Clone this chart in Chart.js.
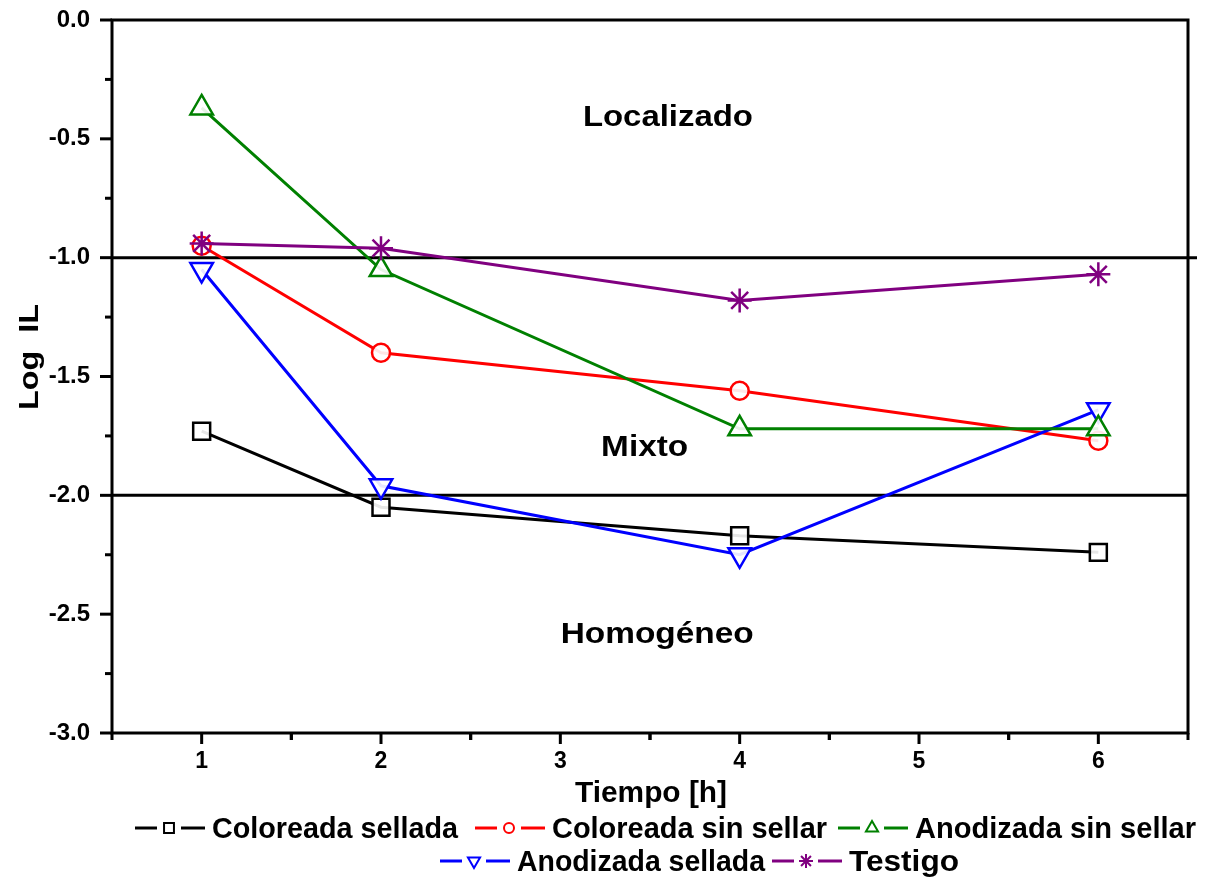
<!DOCTYPE html>
<html>
<head>
<meta charset="utf-8">
<script src="https://cdn.jsdelivr.net/npm/chart.js@4.4.1/dist/chart.umd.min.js"></script>
<style>
  html, body { margin: 0; padding: 0; background: #fff; }
  #wrap { width: 1207px; height: 879px; }
</style>
</head>
<body>
<div id="wrap"><canvas id="chart" width="1207" height="879"></canvas></div>
<script>
  // ===== DATA =====
  const tiempo = [1, 2, 4, 6];
  const coloreadaSellada = [-1.73, -2.05, -2.17, -2.24];
  const coloreadaSinSellar = [-0.95, -1.40, -1.56, -1.77];
  const anodizadaSinSellar = [-0.37, -1.05, -1.72, -1.72];
  const anodizadaSellada = [-1.05, -1.96, -2.25, -1.64];
  const testigo = [-0.94, -0.96, -1.18, -1.07];

  const xTickValues = [1, 2, 3, 4, 5, 6];
  const yTickValues = [0.0, -0.5, -1.0, -1.5, -2.0, -2.5, -3.0];
  const limits = [-1.0, -2.0];               // Localizado / Mixto / Homogéneo
  const regionNames = ["Localizado", "Mixto", "Homogéneo"];

  const FONT = '"Liberation Sans", Arial, Helvetica, sans-serif';

  const series = [
    { label: "Coloreada sellada",    data: coloreadaSellada,   color: "#000000", style: "rect",     r: 12, rot: 0,   order: 4 },
    { label: "Coloreada sin sellar", data: coloreadaSinSellar, color: "#ff0000", style: "circle",   r: 9,  rot: 0,   order: 3 },
    { label: "Anodizada sin sellar", data: anodizadaSinSellar, color: "#008000", style: "triangle", r: 13, rot: 0,   order: 1 },
    { label: "Anodizada sellada",    data: anodizadaSellada,   color: "#0000ff", style: "triangle", r: 13, rot: 180, order: 2 },
    { label: "Testigo",              data: testigo,            color: "#800080", style: "star",     r: 12, rot: 0,   order: 0 }
  ];

  const datasets = series.map(s => ({
    label: s.label,
    data: tiempo.map((t, i) => ({ x: t, y: s.data[i] })),
    order: s.order,
    borderColor: s.color,
    backgroundColor: "#ffffff",
    borderWidth: 3,
    pointStyle: s.style,
    pointRadius: s.r,
    pointHoverRadius: s.r,
    pointRotation: s.rot,
    pointBorderWidth: 2.5,
    pointBorderColor: s.color,
    pointBackgroundColor: "rgba(255,255,255,0.9)",
    tension: 0
  }));

  // text squeezed/stretched to a given width
  function fitText(ctx, text, x, y, w) {
    const m = ctx.measureText(text).width;
    ctx.save();
    ctx.translate(x, y);
    ctx.scale(w / m, 1);
    ctx.fillText(text, 0, 0);
    ctx.restore();
  }

  const decor = {
    id: "decor",
    beforeDatasetsDraw(chart) {
      const { ctx, chartArea: a, scales: { y } } = chart;
      ctx.save();
      ctx.strokeStyle = "#000";
      ctx.lineWidth = 3;
      limits.forEach((v, i) => {
        const py = y.getPixelForValue(v);
        ctx.beginPath();
        ctx.moveTo(a.left, py);
        ctx.lineTo(a.right + (i === 0 ? 9 : 0), py);
        ctx.stroke();
      });
      ctx.restore();
    },
    afterDraw(chart) {
      const { ctx, chartArea: a, scales: { x, y } } = chart;
      ctx.save();
      // frame
      ctx.strokeStyle = "#000";
      ctx.lineWidth = 3;
      ctx.strokeRect(a.left, a.top, a.right - a.left, a.bottom - a.top);

      // y ticks
      for (let i = 0; i < yTickValues.length; i++) {
        const py = y.getPixelForValue(yTickValues[i]);
        ctx.beginPath(); ctx.moveTo(a.left - 12, py); ctx.lineTo(a.left, py); ctx.stroke();
        if (i < yTickValues.length - 1) {
          const pm = y.getPixelForValue((yTickValues[i] + yTickValues[i + 1]) / 2);
          ctx.beginPath(); ctx.moveTo(a.left - 7, pm); ctx.lineTo(a.left, pm); ctx.stroke();
        }
      }
      // x ticks
      xTickValues.forEach(v => {
        const px = x.getPixelForValue(v);
        ctx.beginPath(); ctx.moveTo(px, a.bottom); ctx.lineTo(px, a.bottom + 11); ctx.stroke();
        [v - 0.5, v + 0.5].forEach(m => {
          const pm = x.getPixelForValue(m);
          ctx.beginPath(); ctx.moveTo(pm, a.bottom); ctx.lineTo(pm, a.bottom + 7); ctx.stroke();
        });
      });

      // axis titles
      ctx.fillStyle = "#000";
      ctx.textAlign = "left";
      ctx.textBaseline = "alphabetic";
      ctx.font = "bold 29px " + FONT;
      fitText(ctx, "Tiempo [h]", 575, 802, 152);
      ctx.save();
      ctx.translate(38, 410);
      ctx.rotate(-Math.PI / 2);
      ctx.font = "bold 28px " + FONT;
      fitText(ctx, "Log  IL", 0, 0, 106);
      ctx.restore();

      // region names
      ctx.font = "bold 30px " + FONT;
      const reg = [[3.6, -0.40, 170], [3.47, -1.79, 87], [3.54, -2.575, 193]];
      reg.forEach((r, i) => {
        const px = x.getPixelForValue(r[0]);
        const py = y.getPixelForValue(r[1]);
        fitText(ctx, regionNames[i], px - r[2] / 2, py + 11, r[2]);
      });

      // legend
      ctx.font = "bold 29px " + FONT;
      const rows = [
        { base: 838, items: [[0, 135, 246], [1, 475, 275], [2, 838, 281]] },
        { base: 871, items: [[3, 440, 248], [4, 772, 110]] }
      ];
      rows.forEach(row => {
        row.items.forEach(([k, cx, w]) => {
          const s = series[k];
          const my = row.base - 10;
          ctx.strokeStyle = s.color;
          ctx.lineWidth = 3;
          ctx.beginPath(); ctx.moveTo(cx, my); ctx.lineTo(cx + 22, my); ctx.stroke();
          ctx.beginPath(); ctx.moveTo(cx + 46, my); ctx.lineTo(cx + 70, my); ctx.stroke();
          ctx.fillStyle = "#fff";
          ctx.lineWidth = 2;
          Chart.helpers.drawPoint(ctx, {
            pointStyle: s.style,
            radius: s.style === "circle" ? 5 : 7,
            rotation: s.rot,
            borderWidth: 2
          }, cx + 34, my);
          ctx.fillStyle = "#000";
          fitText(ctx, s.label, cx + 77, row.base, w);
        });
      });
      ctx.restore();
    }
  };

  new Chart(document.getElementById("chart"), {
    type: "line",
    data: { datasets },
    options: {
      responsive: false,
      animation: false,
      events: [],
      layout: { padding: { left: 0, top: 20, right: 19, bottom: 0 } },
      plugins: { legend: { display: false }, tooltip: { enabled: false } },
      scales: {
        x: {
          type: "linear",
          min: 0.5,
          max: 6.5,
          afterBuildTicks: s => { s.ticks = xTickValues.map(v => ({ value: v })); },
          afterFit: s => { s.height = 146; s.paddingLeft = 0; s.paddingRight = 0; },
          ticks: {
            color: "#000",
            padding: 15,
            maxRotation: 0,
            font: { family: FONT, size: 23, weight: "bold" },
            callback: v => String(v)
          },
          grid: { display: false, drawTicks: false },
          border: { display: false }
        },
        y: {
          type: "linear",
          min: -3,
          max: 0,
          afterBuildTicks: s => { s.ticks = yTickValues.map(v => ({ value: v })); },
          afterFit: s => { s.width = 112; s.paddingTop = 0; s.paddingBottom = 0; },
          ticks: {
            color: "#000",
            padding: 22,
            font: { family: FONT, size: 24, weight: "bold" },
            callback: v => v.toFixed(1)
          },
          grid: { display: false, drawTicks: false },
          border: { display: false }
        }
      }
    },
    plugins: [decor]
  });
</script>
</body>
</html>
